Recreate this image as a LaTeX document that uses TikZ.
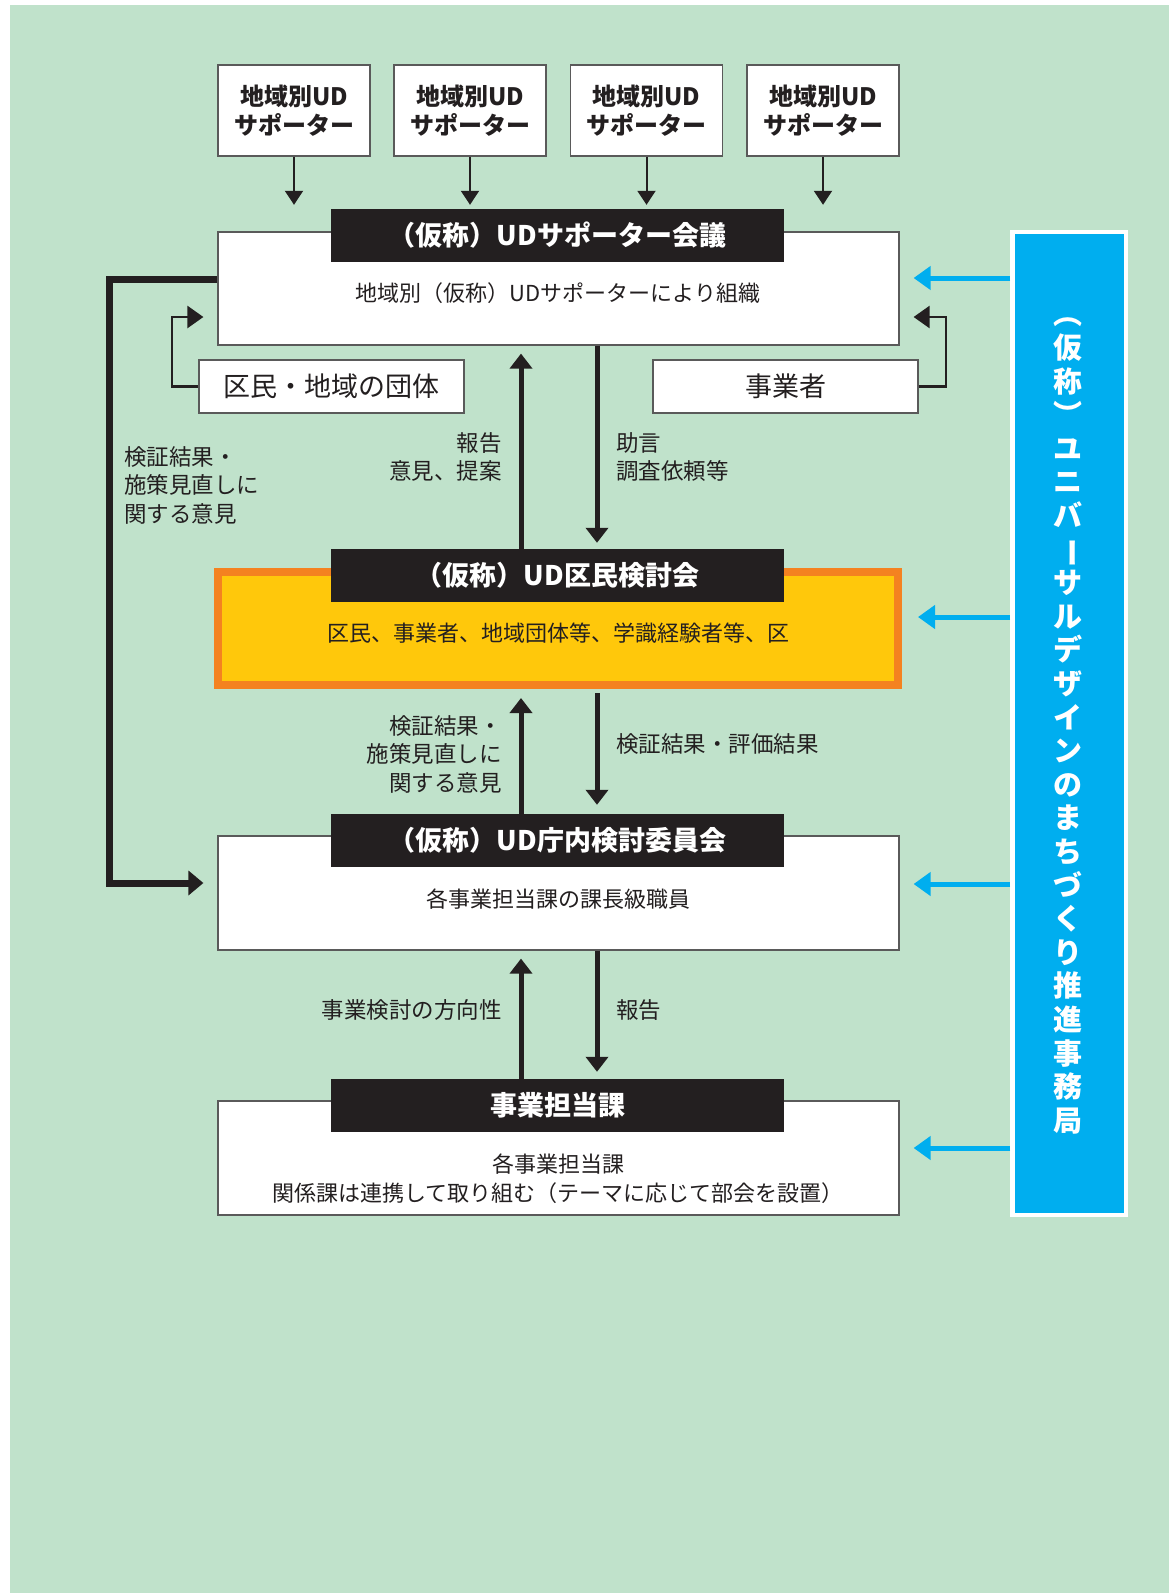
\documentclass[tikz,border=0pt]{standalone}
\usepackage{fontspec}
\usepackage{graphicx}
\setmainfont{Noto Sans CJK JP}
\usetikzlibrary{arrows.meta,calc}
\definecolor{bggreen}{RGB}{192,226,203}
\definecolor{udblue}{RGB}{0,174,239}
\definecolor{udorange}{RGB}{244,130,32}
\definecolor{udyellow}{RGB}{255,200,11}
\definecolor{udblack}{RGB}{35,31,32}
\definecolor{udgray}{RGB}{90,90,90}
\newcommand{\fsz}[2]{\fontsize{#1}{#2}\selectfont}
\newcommand{\vbarchar}{\rotatebox[origin=c]{-90}{ー}}
\begin{document}
\begin{tikzpicture}[x=1pt,y=-1pt,
  mainbox/.style={draw=udgray, line width=1.2pt, fill=white, inner sep=0pt, minimum width=681pt, minimum height=113pt},
  header/.style={fill=udblack, text=white, inner sep=0pt, minimum width=453pt, minimum height=53pt, font=\bfseries\fsz{27}{32}},
  supbox/.style={draw=udgray, line width=1.2pt, fill=white, minimum width=152pt, minimum height=91pt, inner sep=0pt, align=center, text=udblack, font=\bfseries\fsz{24}{29.5}},
  sidebox/.style={draw=udgray, line width=1.2pt, fill=white, minimum width=265pt, minimum height=53pt, inner sep=0pt, text=udblack, font=\fsz{27}{32}},
  bodytext/.style={text=udblack, font=\fsz{22}{29}, align=center, inner sep=0pt},
  lbl/.style={text=udblack, font=\fsz{22.5}{28.5}, inner sep=0pt},
  flowarr/.style={draw=udblack, line width=5pt, -{Triangle[length=15pt,width=22pt]}},
  feedarr/.style={draw=udblack, line width=7pt, -{Triangle[length=15pt,width=24pt]}},
  looparr/.style={draw=udblack, line width=2.5pt, -{Triangle[length=16pt,width=22pt]}},
  suparr/.style={draw=udblack, line width=2pt, -{Triangle[length=14pt,width=18pt]}},
  bluearr/.style={draw=udblue, line width=5pt, -{Triangle[length=17pt,width=23pt]}},
  vtext/.style={text=white, font=\bfseries\fsz{29}{33.6}, align=center, inner sep=0pt}
]
\useasboundingbox (0,0) rectangle (1169,1593);
\fill[white] (0,0) rectangle (1169,1593);
\fill[bggreen] (10,5) rectangle (1169,1593);

% supporter boxes
\node[supbox] (s1) at (294,110.5) {地域別UD\\サポーター};
\node[supbox] (s2) at (470,110.5) {地域別UD\\サポーター};
\node[supbox] (s3) at (646.5,110.5) {地域別UD\\サポーター};
\node[supbox] (s4) at (823,110.5) {地域別UD\\サポーター};

% box 1
\node[mainbox] (b1) at (558.5,288.5) {};
\node[header] (h1) at (557.5,235.5) {（仮称）UDサポーター会議};
\node[bodytext] (t1) at (558,293) {地域別（仮称）UDサポーターにより組織};

% side boxes
\node[sidebox] (kumin) at (331.5,386.5) {区民・地域の団体};
\node[sidebox] (jig) at (785.5,386.5) {事業者};

% box 2
\node[draw=udorange, line width=8pt, fill=udyellow, inner sep=0pt, minimum width=680pt, minimum height=113pt] (b2) at (558,628.5) {};
\node[header] (h2) at (557.5,575.5) {（仮称）UD区民検討会};
\node[bodytext] (t2) at (558,633) {区民、事業者、地域団体等、学識経験者等、区};

% box 3
\node[mainbox, minimum height=114pt] (b3) at (558.5,893) {};
\node[header] (h3) at (557.5,840.5) {（仮称）UD庁内検討委員会};
\node[bodytext] (t3) at (558,899) {各事業担当課の課長級職員};

% box 4
\node[mainbox, minimum height=114pt] (b4) at (558.5,1158) {};
\node[header] (h4) at (557.5,1105.5) {事業担当課};
\node[bodytext] (t4) at (558,1178.5) {各事業担当課\\関係課は連携して取り組む（テーマに応じて部会を設置）};

% blue box
\node[draw=white, line width=4.5pt, fill=udblue, inner sep=0pt, minimum width=113.5pt, minimum height=983pt] (blue) at (1069.25,723.5) {};
\node[vtext] (vt) at (1068,726) {︵\\仮\\称\\︶\\ユ\\ニ\\バ\\\vbarchar\\サ\\ル\\デ\\ザ\\イ\\ン\\の\\ま\\ち\\づ\\く\\り\\推\\進\\事\\務\\局};

% supporter arrows
\foreach \s in {s1,s2,s3,s4}
  \draw[suparr, shorten >=4pt] (\s.south) -- (\s.south |- h1.north);

% vertical flow arrows
\coordinate (ux) at (521,0);
\coordinate (dx) at (597,0);
\draw[flowarr, shorten >=8pt] (h2.north -| ux) -- (b1.south -| ux);
\draw[flowarr, shorten >=6pt] (b1.south -| dx) -- (h2.north -| dx);
\draw[flowarr, shorten >=9pt] (h3.north -| ux) -- (b2.south -| ux);
\draw[flowarr, shorten <=4pt, shorten >=9pt] (b2.south -| dx) -- (h3.north -| dx);
\draw[flowarr, shorten >=8pt] (h4.north -| ux) -- (b3.south -| ux);
\draw[flowarr, shorten >=7pt] (b3.south -| dx) -- (h4.north -| dx);

% feedback thick line
\coordinate (fk1) at (109,279);
\coordinate (fk2) at (109,883);
\draw[feedarr, shorten >=14pt] (b1.west |- fk1) -- (fk1) -- (fk2) -- (b3.west |- fk2);

% loops
\coordinate (ll) at (172,317);
\coordinate (rl) at (946,317);
\draw[looparr, shorten >=14pt] (kumin.west) -| (ll) -- (b1.west |- ll);
\draw[looparr, shorten >=14pt] (jig.east) -| (rl) -- (b1.east |- rl);

% blue arrows
\coordinate (ba1) at (1010,278);
\coordinate (ba2) at (1010,617);
\coordinate (ba3) at (1010,884);
\coordinate (ba4) at (1010,1148);
\draw[bluearr, shorten >=14pt] (ba1) -- (b1.east |- ba1);
\draw[bluearr, shorten >=16pt] (ba2) -- (b2.east |- ba2);
\draw[bluearr, shorten >=14pt] (ba3) -- (b3.east |- ba3);
\draw[bluearr, shorten >=14pt] (ba4) -- (b4.east |- ba4);

% labels
\node[lbl, anchor=east, align=right] (l1) at (502,457) {報告\\意見、提案};
\node[lbl, anchor=west, align=left] (l2) at (616,457) {助言\\調査依頼等};
\node[lbl, anchor=west, align=left] (l3) at (124,485) {検証結果・\\施策見直しに\\関する意見};
\node[lbl, anchor=east, align=right] (l4) at (502,754) {検証結果・\\施策見直しに\\関する意見};
\node[lbl, anchor=west] (l5) at (616,744) {検証結果・評価結果};
\node[lbl, anchor=east] (l6) at (502,1010) {事業検討の方向性};
\node[lbl, anchor=west] (l7) at (616,1010) {報告};
\end{tikzpicture}
\end{document}
